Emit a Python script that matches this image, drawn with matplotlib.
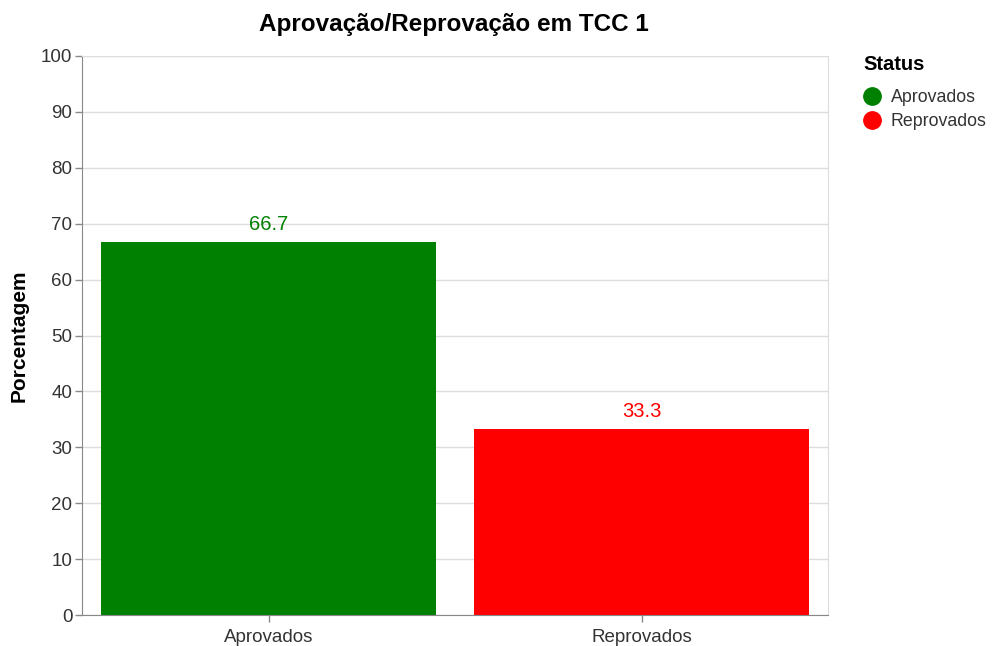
import matplotlib
matplotlib.use("Agg")
import matplotlib.pyplot as plt
from matplotlib.lines import Line2D

plt.rcParams['font.family'] = ['Liberation Sans', 'DejaVu Sans']

categorias = ['Aprovados', 'Reprovados']
porcentagens = [66.7, 33.3]
cores = ['#008000', '#ff0000']
yticks = list(range(0, 101, 10))

fig = plt.figure(figsize=(9.93, 6.46), dpi=100)
ax = fig.add_axes([82/993, 1 - 615/646, 746/993, 559/646])

x = list(range(len(categorias)))
ax.bar(x, porcentagens, width=0.9, color=cores, zorder=2)

for xi, v, c in zip(x, porcentagens, cores):
    ax.annotate(f'{v:.1f}', (xi, v), xytext=(0, 6), textcoords='offset points',
                ha='center', va='bottom', color=c, fontsize=14.5)

ax.set_xlim(-0.5, 1.5)
ax.set_ylim(0, 100)
ax.set_yticks(yticks)
ax.set_xticks(x)
ax.set_xticklabels(categorias)
ax.tick_params(axis='both', colors='#888888', labelcolor='#333333', labelsize=13.5, length=5, width=1)
ax.tick_params(axis='y', pad=2)
ax.tick_params(axis='x', pad=5)
ax.grid(axis='y', color='#dddddd', linewidth=1, zorder=0)
ax.set_axisbelow(True)

for s in ['top', 'right']:
    ax.spines[s].set_color('#dddddd')
for s in ['left', 'bottom']:
    ax.spines[s].set_color('#888888')

ax.set_ylabel('Porcentagem', fontsize=15, fontweight='bold', color='black', labelpad=9)
fig.text(454/993, 1 - 25/646, 'Aprovação/Reprovação em TCC 1', ha='center', va='center',
         fontsize=17.5, fontweight='bold')

# legenda
fig.text(863/993, 1 - 65/646, 'Status', ha='left', va='center', fontsize=14.5, fontweight='bold')
for i, (cat, c) in enumerate(zip(categorias, cores)):
    yy = 1 - (96 + 24*i)/646
    fig.add_artist(Line2D([872/993], [yy], marker='o', markersize=12.5, color=c,
                          linestyle='none', transform=fig.transFigure))
    fig.text(891/993, yy - 1/646, cat, ha='left', va='center', fontsize=12.8, color='#333333')

fig.savefig('out.png', dpi=100)
